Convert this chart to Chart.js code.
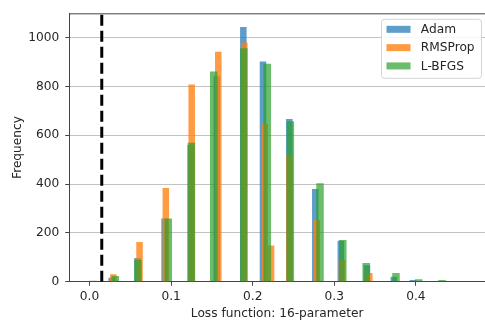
<!DOCTYPE html>
<html><head><meta charset="utf-8">
<script src="https://cdn.jsdelivr.net/npm/chart.js@4/dist/chart.umd.min.js"></script>
<style>html,body{margin:0;padding:0;background:#fff;overflow:hidden}#wrap{width:485px;height:324px;position:relative}</style>
</head><body><div id="wrap"><canvas id="c" width="485" height="324"></canvas></div>
<script>
// ---- data ----
const seriesNames = ['Adam', 'RMSProp', 'L-BFGS'];
const adamX = [0.0272, 0.0588, 0.0920, 0.1240, 0.1560, 0.1885, 0.2126, 0.2449, 0.2767, 0.3080, 0.3400, 0.3730, 0.3964];
const adamY = [16, 97, 259, 560, 842, 1044, 903, 667, 380, 168, 67, 20, 7];
const rmsX = [0.0292, 0.0613, 0.0935, 0.1252, 0.1578, 0.1897, 0.2147, 0.2225, 0.2450, 0.2784, 0.3094, 0.3429];
const rmsY = [31, 163, 384, 808, 943, 980, 647, 148, 519, 253, 90, 36];
const lbfgsX = [0.0043, 0.0316, 0.0593, 0.0965, 0.1249, 0.1522, 0.1891, 0.2179, 0.2461, 0.2825, 0.3104, 0.3391, 0.3756, 0.4035, 0.4320];
const lbfgsY = [4, 23, 90, 259, 570, 862, 957, 893, 658, 404, 171, 77, 36, 10, 7];
const binWidths = [0.0080, 0.0080, 0.0092];
const threshold = 0.015;
const xTicks = [0.0, 0.1, 0.2, 0.3, 0.4];
const yTicks = [0, 200, 400, 600, 800, 1000];
const xRange = [-0.0248, 0.4847];
const yRange = [0, 1100];

const colors = ['rgba(31,119,180,0.72)', 'rgba(255,127,14,0.78)', 'rgba(44,160,44,0.70)'];
const FONT = {family: 'DejaVu Sans', size: 12.2};
const TXT = '#262626';

const toPts = (xs, ys) => xs.map((x, i) => ({x: x, y: ys[i]}));
const seriesData = [toPts(adamX, adamY), toPts(rmsX, rmsY), toPts(lbfgsX, lbfgsY)];

const datasets = seriesNames.map((name, i) => ({
  type: 'bar', label: name, data: seriesData[i], binWidth: binWidths[i],
  backgroundColor: colors[i], borderWidth: 0, grouped: false, order: 3 - i
}));
datasets.push({
  type: 'line', label: 'threshold',
  data: [{x: threshold, y: yRange[0]}, {x: threshold, y: yRange[1]}],
  borderColor: '#000', borderWidth: 3, borderDash: [11, 5], pointRadius: 0, order: 0
});

const binWidthPlugin = {
  id: 'binWidth',
  afterDatasetsUpdate(chart) {
    const xs = chart.scales.x;
    chart.data.datasets.forEach((ds, i) => {
      if (ds.type !== 'bar') return;
      const w = Math.abs(xs.getPixelForValue(ds.binWidth) - xs.getPixelForValue(0));
      chart.getDatasetMeta(i).data.forEach(el => { el.width = w; });
    });
  }
};

const framePlugin = {
  id: 'frame',
  afterDraw(chart) {
    const {ctx, chartArea: a} = chart;
    ctx.save();
    ctx.strokeStyle = '#444'; ctx.lineWidth = 1;
    ctx.beginPath(); ctx.moveTo(a.left, a.top + 0.5); ctx.lineTo(a.right, a.top + 0.5); ctx.stroke();
    // legend box
    const bx = a.right - 103.5, by = a.top + 6, bw = 100, bh = 59, r = 3;
    ctx.fillStyle = 'rgba(255,255,255,0.85)';
    ctx.strokeStyle = '#d4d4d4';
    ctx.beginPath();
    ctx.moveTo(bx + r, by); ctx.lineTo(bx + bw - r, by); ctx.arcTo(bx + bw, by, bx + bw, by + r, r);
    ctx.lineTo(bx + bw, by + bh - r); ctx.arcTo(bx + bw, by + bh, bx + bw - r, by + bh, r);
    ctx.lineTo(bx + r, by + bh); ctx.arcTo(bx, by + bh, bx, by + bh - r, r);
    ctx.lineTo(bx, by + r); ctx.arcTo(bx, by, bx + r, by, r); ctx.closePath();
    ctx.fill(); ctx.stroke();
    ctx.font = FONT.size + 'px "' + FONT.family + '"';
    ctx.textBaseline = 'middle'; ctx.textAlign = 'left';
    chart.data.datasets.filter(d => d.type === 'bar').forEach((d, k) => {
      const cy = by + 10 + k * 18.3;
      ctx.fillStyle = d.backgroundColor;
      ctx.fillRect(bx + 5, cy - 3.5, 24, 7);
      ctx.fillStyle = TXT;
      ctx.fillText(d.label, bx + 39.3, cy + 0.5);
    });
    ctx.restore();
  }
};

new Chart(document.getElementById('c'), {
  data: {datasets: datasets},
  options: {
    responsive: false, devicePixelRatio: 1, animation: false,
    layout: {padding: {top: 10, right: 0, left: 0, bottom: 0}},
    plugins: {legend: {display: false}, tooltip: {enabled: false}},
    scales: {
      x: {
        type: 'linear', min: xRange[0], max: xRange[1], offset: false,
        afterBuildTicks: s => { s.ticks = xTicks.map(v => ({value: v})); },
        afterFit: s => { s.height = 42.3; },
        ticks: {callback: v => Number(v).toFixed(1), font: FONT, color: TXT, padding: 3.7, maxRotation: 0, autoSkip: false},
        grid: {display: true, drawOnChartArea: false, drawTicks: true, tickLength: 4, tickColor: '#444', offset: false},
        border: {display: true, color: '#444', width: 1},
        title: {display: true, text: 'Loss function: 16-parameter', font: FONT, color: TXT, padding: {top: 0, bottom: 2.4}}
      },
      y: {
        type: 'linear', min: yRange[0], max: yRange[1],
        afterBuildTicks: s => { s.ticks = yTicks.map(v => ({value: v})); },
        afterFit: s => { s.width = 69.3; },
        ticks: {callback: v => String(v), font: FONT, color: TXT, padding: 6},
        grid: {color: '#c2c2c2', lineWidth: 1, drawTicks: true, tickLength: 4, tickColor: '#444'},
        border: {display: true, color: '#444', width: 1},
        title: {display: true, text: 'Frequency', font: FONT, color: TXT, padding: {top: 10.7, bottom: 0}}
      }
    }
  },
  plugins: [binWidthPlugin, framePlugin]
});
</script></body></html>
